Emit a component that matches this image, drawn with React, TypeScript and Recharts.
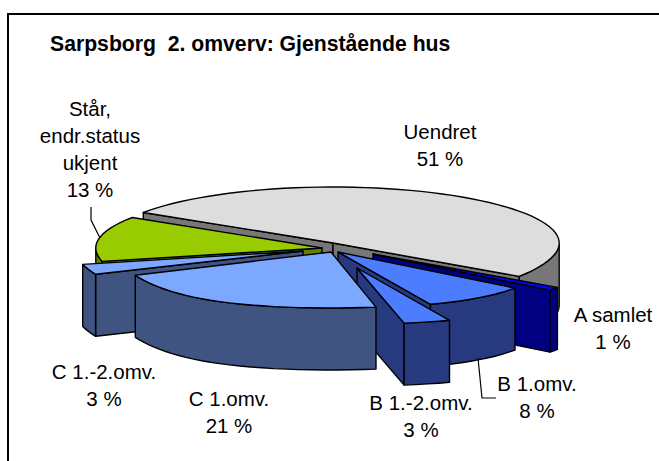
import React from 'react';
import { PieChart, Pie } from 'recharts';

const categories = ['Uendret', 'A samlet', 'B 1.omv.', 'B 1.-2.omv.', 'C 1.omv.', 'C 1.-2.omv.', 'Står, endr.status ukjent'];
const values = [51, 1, 8, 3, 21, 3, 13];
const labelLines = [['Uendret'], ['A samlet'], ['B 1.omv.'], ['B 1.-2.omv.'], ['C 1.omv.'], ['C 1.-2.omv.'], ['Står,', 'endr.status', 'ukjent']];
const title = 'Sarpsborg  2. omverv: Gjenstående hus';

const rows = categories.map((name, i) => ({ name, value: values[i] }));

const topColors = ['#dddddd', '#0000ff', '#4d7dff', '#4d7dff', '#7ca8ff', '#7ca8ff', '#99cc00'];
const wallColors = ['#777777', '#000080', '#27397f', '#27397f', '#3f5480', '#3f5480', '#667f00'];
const explode = [[3, -7], [43, 4], [8, 2], [27, 18], [1, 2], [-27, 1], [-8, -2]];
const widthScale = [1.01, 1, 1, 1, 0.955, 1.012, 1.01];
const labelPos = [[440, 139], [613, 322], [537, 391], [421, 410], [229, 406], [104, 379], [90, 116]];
const drawOrder = [0, 6, 1, 2, 3, 5, 4];

const CX = 330;
const CY = 250;
const RX = 224;
const SQUASH = 56 / 224;
const DEPTH = 62;
const PERSP = 0.2;
const FONT = '"Liberation Sans", Arial, sans-serif';
const RAD = Math.PI / 180;

function pt(ang: number, r: number, ox: number, oy: number, ws: number): [number, number] {
  const c = Math.cos(ang * RAD);
  const s = Math.sin(ang * RAD);
  const grow = s < 0 ? 1 + PERSP * s * s * s * s : 1;
  return [ox + r * ws * c * grow, oy - r * SQUASH * s];
}
const path = (p: [number, number][]) => 'M' + p.map((q) => `${q[0].toFixed(1)},${q[1].toFixed(1)}`).join('L') + 'Z';

function Slice({ props, layer }: { props: any; layer: number }) {
  const idx = props.index;
  if (idx !== layer) return null;
  const { cx, cy, outerRadius: r, startAngle: a0, endAngle: a1 } = props;
  const ox = cx + explode[idx][0];
  const oy = cy + explode[idx][1];
  const ws = widthScale[idx];
  const lo = Math.min(a0, a1);
  const hi = Math.max(a0, a1);
  const arc: number[] = [];
  const n = Math.max(2, Math.ceil((hi - lo) / 3));
  for (let k = 0; k <= n; k++) arc.push(hi - ((hi - lo) * k) / n);
  const apex: [number, number] = [ox, oy];
  const stroke = { stroke: '#000', strokeWidth: 1.4, strokeLinejoin: 'round' as const };
  const wall = wallColors[idx];
  const faces: React.ReactNode[] = [];
  const cut = (ang: number, key: string) => {
    const q = pt(ang, r, ox, oy, ws);
    faces.push(<path key={key} d={path([apex, q, [q[0], q[1] + DEPTH], [apex[0], apex[1] + DEPTH]])} fill={wall} {...stroke} />);
  };
  if (Math.cos(hi * RAD) < 0) cut(hi, 'cs');
  if (Math.cos(lo * RAD) > 0) cut(lo, 'ce');
  const front = arc.filter((t) => Math.sin(t * RAD) <= 0.02);
  if (front.length > 1) {
    const top = front.map((t) => pt(t, r, ox, oy, ws));
    const bottom = top.map((q) => [q[0], q[1] + DEPTH] as [number, number]).reverse();
    faces.push(<path key="o" d={path([...top, ...bottom])} fill={wall} {...stroke} />);
  }
  const lines = [...labelLines[idx], `${values[idx]} %`];
  const [lx, ly] = labelPos[idx];
  return (
    <g>
      {faces}
      <path d={path([apex, ...arc.map((t) => pt(t, r, ox, oy, ws))])} fill={topColors[idx]} {...stroke} />
      <text textAnchor="middle" fontFamily={FONT} fontSize={20.5} fill="#000">
        {lines.map((l, i) => (
          <tspan key={i} x={lx} y={ly + i * 27}>{l}</tspan>
        ))}
      </text>
      {idx === 6 && <polyline points="91,207 91,220 100,238" fill="none" stroke="#000" strokeWidth={1.2} />}
      {idx === 2 && <polyline points="478,358 482,398 496,398" fill="none" stroke="#000" strokeWidth={1.2} />}
    </g>
  );
}

export default function App() {
  return (
    <div style={{ position: 'absolute', left: 0, top: 0, width: 659, height: 461, overflow: 'hidden', background: '#fff' }}>
      <div style={{ position: 'absolute', left: 7, top: 13, width: 660, height: 460, borderLeft: '2px solid #000', borderTop: '2px solid #000' }} />
      <div style={{ position: 'absolute', left: 50, top: 32, fontFamily: FONT, fontWeight: 700, fontSize: 21.2, lineHeight: '24px', whiteSpace: 'pre', color: '#000' }}>{title}</div>
      <div style={{ position: 'absolute', left: 0, top: 0 }}>
        <PieChart width={659} height={461} margin={{ top: 0, right: 0, bottom: 0, left: 0 }}>
          {drawOrder.map((layer) => (
            <Pie
              key={layer}
              data={rows}
              dataKey="value"
              nameKey="name"
              cx={CX}
              cy={CY}
              innerRadius={0}
              outerRadius={RX}
              startAngle={147}
              endAngle={-213}
              stroke="none"
              isAnimationActive={false}
              shape={(p: any) => <Slice props={p} layer={layer} />}
            />
          ))}
        </PieChart>
      </div>
    </div>
  );
}
